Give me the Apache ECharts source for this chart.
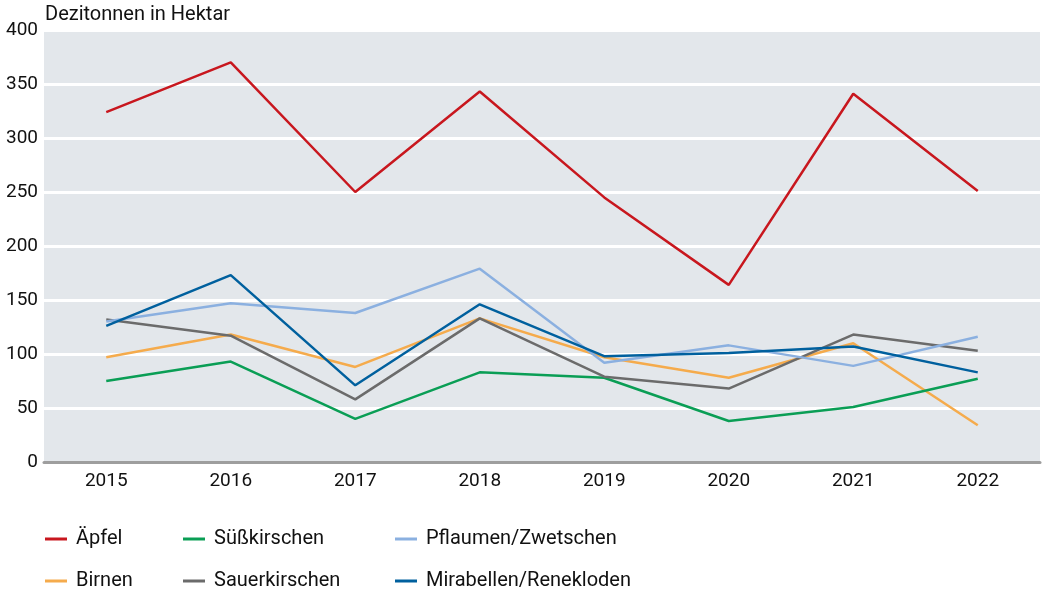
<!DOCTYPE html>
<html><head><meta charset="utf-8">
<script src="https://cdn.jsdelivr.net/npm/echarts@6/dist/echarts.min.js"></script>
<style>html,body{margin:0;padding:0;background:#fff}#c{width:1043px;height:592px}</style>
</head><body><div id="c"></div>
<script>
const years = ['2015','2016','2017','2018','2019','2020','2021','2022'];
const aepfel = [324, 370, 250, 343, 245, 164, 341, 251];
const suesskirschen = [75, 93, 40, 83, 78, 38, 51, 77];
const pflaumen = [130, 147, 138, 179, 92, 108, 89, 116];
const birnen = [97, 118, 88, 133, 97, 78, 110, 34];
const sauerkirschen = [132, 117, 58, 133, 79, 68, 118, 103];
const mirabellen = [126, 173, 71, 146, 98, 101, 107, 83];
const yTicks = [0, 50, 100, 150, 200, 250, 300, 350, 400];

const FONT = 'Roboto';
const seriesDefs = [
  {name:'Äpfel', data:aepfel, color:'#c8171e'},
  {name:'Birnen', data:birnen, color:'#f5ab4c'},
  {name:'Süßkirschen', data:suesskirschen, color:'#0a9e55'},
  {name:'Sauerkirschen', data:sauerkirschen, color:'#6b6b6b'},
  {name:'Pflaumen/Zwetschen', data:pflaumen, color:'#8bb0e0'},
  {name:'Mirabellen/Renekloden', data:mirabellen, color:'#00609e'}
];
const legendPos = {
  'Äpfel':[45,529], 'Birnen':[45,571],
  'Süßkirschen':[183,529], 'Sauerkirschen':[183,571],
  'Pflaumen/Zwetschen':[395,529], 'Mirabellen/Renekloden':[395,571]
};
const chart = echarts.init(document.getElementById('c'));
chart.setOption({
  animation:false,
  title:{text:'Dezitonnen in Hektar', left:45, top:5, padding:0, textStyle:{fontFamily:FONT, fontSize:20, fontWeight:'normal', color:'#111'}},
  grid:{left:44, right:3, top:30, bottom:130, backgroundColor:'#e3e7eb', show:true, borderWidth:0},
  legend: seriesDefs.map(s=>({
    data:[s.name], left:legendPos[s.name][0], top:legendPos[s.name][1], padding:0,
    icon:'rect', itemWidth:22, itemHeight:3, itemGap:10,
    textStyle:{fontFamily:FONT, fontSize:20, color:'#111', padding:[0,0,0,4]}
  })),
  xAxis:{type:'category', data:years, boundaryGap:true,
    axisLine:{lineStyle:{color:'#9e9e9e', width:3}}, axisTick:{show:false},
    axisLabel:{fontFamily:FONT, fontSize:19, color:'#111', margin:10}},
  yAxis:{type:'value', min:0, max:400, interval:50,
    axisLine:{show:false}, axisTick:{show:false},
    splitLine:{lineStyle:{color:'#ffffff', width:3}},
    axisLabel:{fontFamily:FONT, fontSize:19, color:'#111', margin:6,
      formatter:v=>yTicks.includes(v)?String(v):''}},
  series: seriesDefs.map(s=>({
    name:s.name, type:'line', data:s.data, showSymbol:false, symbol:'none',
    lineStyle:{color:s.color, width:2.5}, itemStyle:{color:s.color}
  }))
});
</script></body></html>
